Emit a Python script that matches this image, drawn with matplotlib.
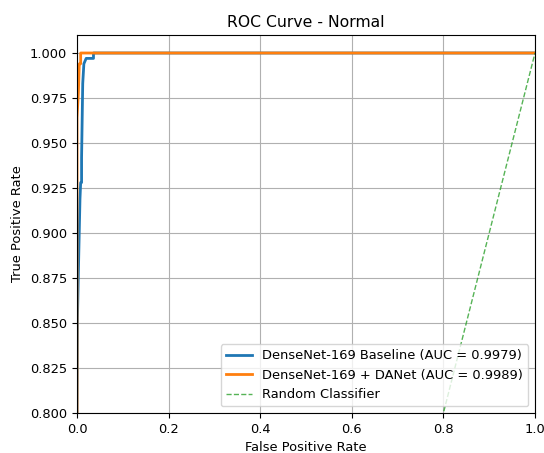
import numpy as np
import matplotlib
matplotlib.use('Agg')
import matplotlib.pyplot as plt

plt.rcParams['font.size'] = 9.4

# ROC points (fpr, tpr)
base_fpr = [0.0, 0.0, 0.001, 0.004, 0.0065, 0.008, 0.010, 0.010, 0.0125, 0.015, 0.020, 0.036, 0.036, 1.0]
base_tpr = [0.0, 0.80, 0.853, 0.890, 0.919, 0.928, 0.928, 0.942, 0.983, 0.994, 0.997, 0.997, 1.0, 1.0]
danet_fpr = [0.0, 0.0, 0.003, 0.005, 0.008, 0.008, 1.0]
danet_tpr = [0.0, 0.964, 0.978, 0.994, 0.994, 1.0, 1.0]

labels = ['DenseNet-169 Baseline (AUC = 0.9979)',
          'DenseNet-169 + DANet (AUC = 0.9989)',
          'Random Classifier']

fig = plt.figure(figsize=(5.44, 4.53), dpi=100)
ax = fig.add_axes([77/544, 1 - 413/453, (535-77)/544, (413-35)/453])

ax.plot(base_fpr, base_tpr, color='#1f77b4', lw=2, label=labels[0])
ax.plot(danet_fpr, danet_tpr, color='#ff7f0e', lw=2, label=labels[1])
ax.plot([0, 1], [0, 1], color='#2ca02c', ls='--', lw=1, alpha=0.8, label=labels[2])

ax.set_xlim(0, 1)
ax.set_ylim(0.8, 1.01)
ax.set_xlabel('False Positive Rate')
ax.set_ylabel('True Positive Rate')
ax.set_title('ROC Curve - Normal')
ax.grid(True)
ax.legend(loc='lower right')

fig.savefig('out.png', dpi=100)
